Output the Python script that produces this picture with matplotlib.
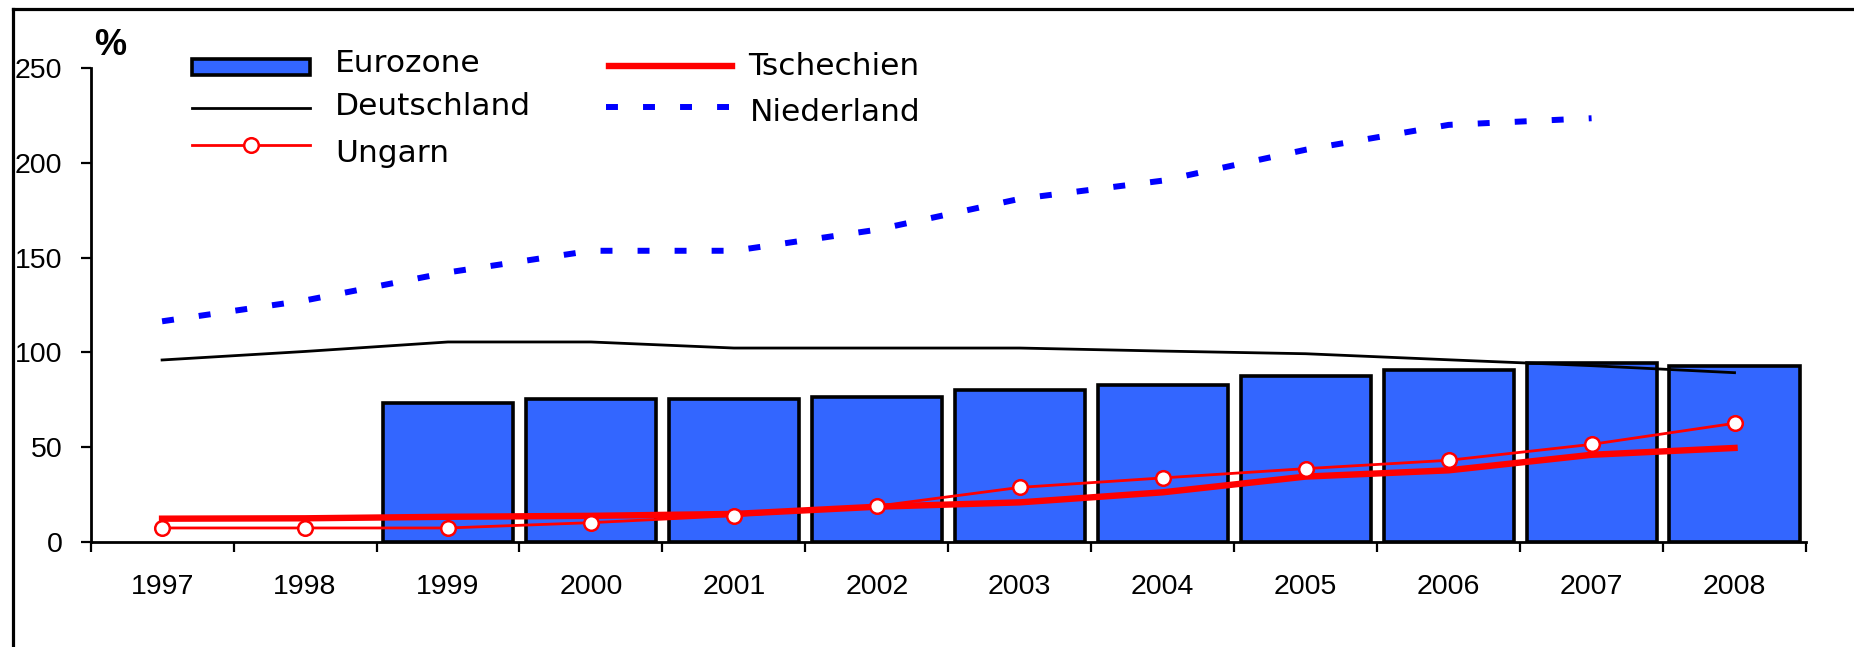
import numpy as np
import matplotlib
matplotlib.use("Agg")
import matplotlib.pyplot as plt
from matplotlib.lines import Line2D
from matplotlib.patches import Rectangle

# data (% values)
years = ['1997', '1998', '1999', '2000', '2001', '2002', '2003', '2004',
         '2005', '2006', '2007', '2008']
eurozone = [None, None, 73.3, 75.2, 75.2, 76.5, 80.0, 82.8, 87.5, 90.7, 94.6, 92.8]
deutschland = [96.0, 100.5, 105.5, 105.5, 102.3, 102.3, 102.3, 100.7, 99.3, 96.1, 93.0, 89.3]
niederland = [116.4, 127.4, 142.2, 153.6, 153.6, 164.7, 181.0, 190.6, 206.9, 220.0, 223.5]
tschechien = [12.3, 12.5, 13.3, 13.8, 14.8, 18.6, 20.9, 26.2, 34.5, 37.8, 46.0, 49.6]
ungarn = [7.4, 7.4, 7.4, 10.2, 13.9, 18.9, 28.8, 33.8, 38.7, 43.1, 51.5, 62.6]
yticks = [0, 50, 100, 150, 200, 250]

W, H = 1854, 647
fig = plt.figure(figsize=(W / 100, H / 100), dpi=100)
ax = fig.add_axes([90.6 / W, 1 - 542 / H, (1806 - 90.6) / W, (542 - 68) / H])

x = np.arange(len(years))
bar_x = [i for i, v in zip(x, eurozone) if v is not None]
bar_v = [v for v in eurozone if v is not None]
ax.bar(bar_x, bar_v, width=0.91, color='#3366FF', edgecolor='black', linewidth=2.6, zorder=2)

ax.plot(x, deutschland, color='black', lw=2.0, zorder=3)
ax.plot(x[:len(niederland)], niederland, color='#0000FF', lw=4.3,
        linestyle=(0, (2, 4.2)), zorder=3)
ax.plot(x, tschechien, color='#FF0000', lw=4.6, zorder=4)
ax.plot(x, ungarn, color='#FF0000', lw=2.0, marker='o', ms=10.5,
        mfc='white', mec='#FF0000', mew=1.8, zorder=5)

ax.set_xlim(-0.5, len(years) - 0.5)
ax.set_ylim(0, 250)
ax.set_yticks(yticks)
ax.set_xticks(np.arange(len(years) + 1) - 0.5)
ax.set_xticklabels([])
ax.set_xticks(x, minor=True)
ax.set_xticklabels(years, minor=True, fontsize=20.5, family='Liberation Sans')
ax.tick_params(axis='x', which='major', length=7.2, width=1.6, direction='out')
ax.tick_params(axis='x', which='minor', length=0, pad=23)
ax.tick_params(axis='y', length=7.2, width=1.6, direction='out', pad=13, labelsize=20.5)
for lab in ax.get_yticklabels():
    lab.set_family('Liberation Sans')

for s in ['top', 'right']:
    ax.spines[s].set_visible(False)
for s in ['left', 'bottom']:
    ax.spines[s].set_linewidth(2.0)

fig.text(94 / W, 1 - 55 / H, '%', fontsize=26, fontweight='bold',
         family='Liberation Sans', va='baseline')

# hand made legend, positions in pixels
def px(xp, yp):
    return xp / W, 1 - yp / H

fig.add_artist(Rectangle(px(192, 75), 118 / W, 16 / H, facecolor='#3366FF',
                         edgecolor='black', lw=2.6, transform=fig.transFigure))
fig.add_artist(Line2D([192 / W, 310 / W], [1 - 108 / H] * 2, color='black', lw=2.0))
fig.add_artist(Line2D([192 / W, 310 / W], [1 - 145 / H] * 2, color='#FF0000', lw=2.0))
fig.add_artist(Line2D([251 / W], [1 - 145 / H], marker='o', ms=10.5, mfc='white',
                      mec='#FF0000', mew=1.8, lw=0))
fig.add_artist(Line2D([609 / W, 732 / W], [1 - 66 / H] * 2, color='#FF0000', lw=4.6))
fig.add_artist(Line2D([606 / W, 729 / W], [1 - 107 / H] * 2, color='#0000FF', lw=4.3,
                      linestyle=(0, (2, 4.2))))

labels = [('Eurozone', 335, 72), ('Deutschland', 335, 115), ('Ungarn', 335, 162),
          ('Tschechien', 748, 75), ('Niederland', 750, 121)]
for txt, xp, yp in labels:
    fx, fy = px(xp, yp)
    fig.text(fx, fy, txt, fontsize=22.5, va='baseline', family='DejaVu Sans')

# outer frame (only top and left visible in the crop)
fig.add_artist(Line2D([13 / W, 13 / W], [0, 1 - 9 / H], color='black', lw=2.3))
fig.add_artist(Line2D([13 / W, 1], [1 - 9 / H] * 2, color='black', lw=2.3))

fig.savefig('out.png', dpi=100)
